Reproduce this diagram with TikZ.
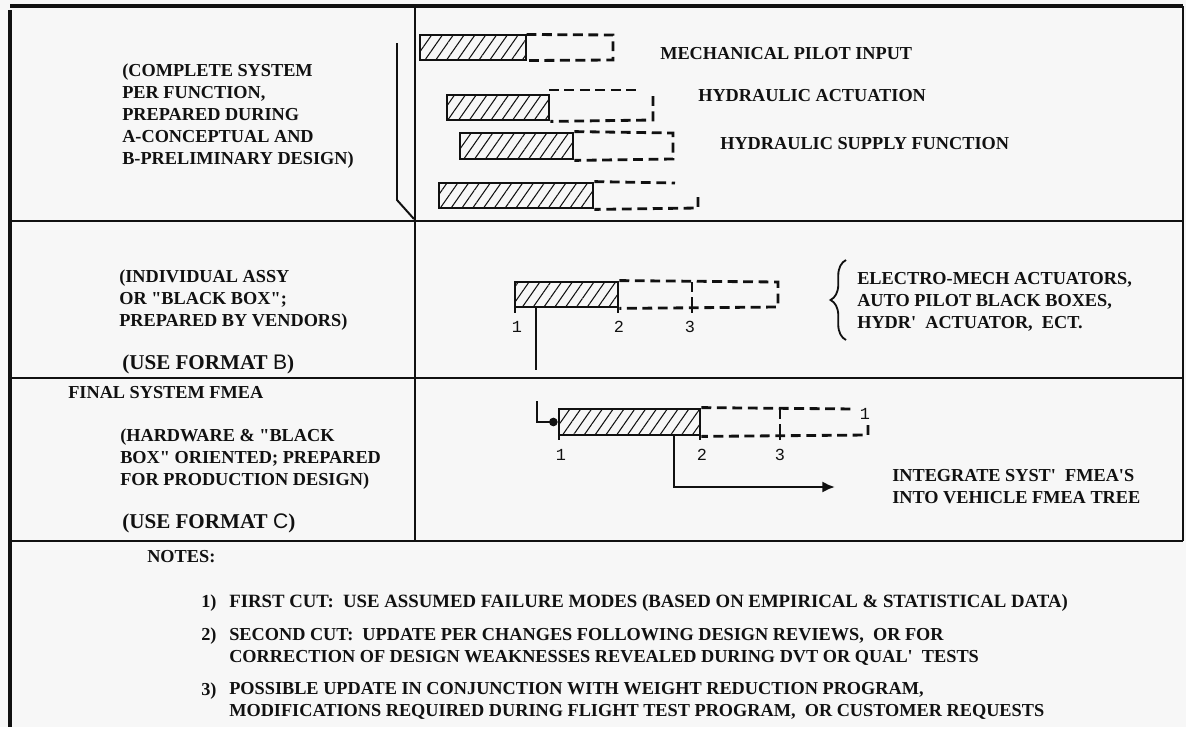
\documentclass[tikz,border=0pt]{standalone}
\usepackage{fontspec}
\setmainfont{Liberation Serif}
\newfontfamily\cifrafont{Liberation Mono}
\newfontfamily\letrafont{Liberation Sans}
\usetikzlibrary{arrows.meta,positioning,calc,fit,patterns.meta,decorations.pathreplacing}
\definecolor{cpapel}{HTML}{F7F7F7}
\definecolor{ctinta}{HTML}{111111}
\newcommand{\cm}{\textquotedbl}
\newcommand{\ap}{\textquotesingle}
\tikzset{
  marco/.style={draw=ctinta,line width=2pt},
  marcof/.style={draw=ctinta,line width=1.4pt},
  barra/.style={draw=ctinta,line width=2pt,inner sep=0pt,
                pattern={Lines[angle=55,distance=6.3pt,line width=0.75pt]},pattern color=ctinta},
  tramo/.style={draw=ctinta,line width=2pt,dash pattern=on 7pt off 4pt},
  marca/.style={draw=ctinta,line width=1.6pt},
  texto/.style={font=\fontsize{13}{15.6}\selectfont\bfseries,align=left,inner sep=0pt,
                anchor=west,text=ctinta},
  textog/.style={texto,font=\fontsize{15}{18}\selectfont\bfseries},
  cifra/.style={font=\fontsize{12}{14}\selectfont\cifrafont,inner sep=0pt,text=ctinta},
  flecha/.style={draw=ctinta,line width=2pt},
}
\begin{document}
\begin{tikzpicture}[x=0.025cm,y=-0.025cm]

\fill[cpapel] (0,0) rectangle (1186,727);

% marco y separaciones
\draw[marco,line width=2.4pt] (10,6) -- (1183,6);
\draw[marco,line width=2.4pt] (10,10) -- (10,727);
\draw[marcof] (1183,6) -- (1183,541);
\draw[marcof] (10,221) -- (1183,221);
\draw[marcof] (10,378) -- (1183,378);
\draw[marco] (10,541) -- (1183,541);
\draw[marcof] (415,6) -- (415,541);
\draw[marcof] (397,43) -- (397,200) -- (414,219);

% fase 1
\node[texto] (fase1) at (122,116)
  {(COMPLETE SYSTEM\\PER FUNCTION,\\PREPARED DURING\\A-CONCEPTUAL AND\\B-PRELIMINARY DESIGN)};

\node[barra,fit={(420,35) (526,60)}] (b1) {};
\node[barra,fit={(447,95) (549,120)}] (b2) {};
\node[barra,fit={(460,133) (573,159)}] (b3) {};
\node[barra,fit={(439,183) (593,208)}] (b4) {};

\draw[tramo] (b1.north east) -- (613,35) -- (613,60) -- (b1.south east);
\draw[tramo] (549,90) -- (640,90);
\draw[tramo] (653,96) -- (653,120) -- (b2.south east);
\draw[tramo] (b3.north east) -- (673,133) -- (673,159) -- (b3.south east);
\draw[tramo] (b4.north east) -- (675,183);
\draw[tramo] (698,197) -- (698,208) -- (b4.south east);

\node[texto] (mec) at (660,54) {MECHANICAL PILOT INPUT};
\node[texto] (act) at (698,96) {HYDRAULIC ACTUATION};
\node[texto] (sum) at (720,144) {HYDRAULIC SUPPLY FUNCTION};

% fase 2
\node[texto] (fase2) at (119,300) {(INDIVIDUAL ASSY\\OR \cm BLACK BOX\cm;\\PREPARED BY VENDORS)};
\node[textog] (formb) at (122,364) {(USE FORMAT {\letrafont\mdseries B})};

\node[barra,fit={(515,282) (618,307)}] (vb) {};
\draw[tramo] (vb.north east) -- (778,282) -- (778,307) -- (vb.south east);
\draw[tramo] (692,282) -- (692,307);
\foreach \xm in {515,618,692}
  \draw[marca] (\xm,306) -- (\xm,313);
\node[cifra] (v1) at (517,327) {1};
\node[cifra] (v2) at (619,327) {2};
\node[cifra] (v3) at (690,327) {3};

\coordinate (vcorte) at (536,343);
\coordinate (vfin) at (536,370);
\draw[flecha] (vb.south -| vcorte) -- (vcorte);
\draw[draw=ctinta,line width=1pt] (vcorte) -- (vfin);

\draw[draw=ctinta,line width=1.3pt,decorate,decoration={brace,amplitude=11pt}]
  (846,340) -- (846,260);
\node[texto] (elec) at (857,301.5)
  {ELECTRO-MECH ACTUATORS,\\AUTO PILOT BLACK BOXES,\\HYDR\ap~ ACTUATOR, ~ECT.};

% fase 3
\node[texto] (fase3t) at (68,393) {FINAL SYSTEM FMEA};
\node[texto] (fase3) at (120,459.5)
  {(HARDWARE \& \cm BLACK\\BOX\cm{} ORIENTED; PREPARED\\FOR PRODUCTION DESIGN)};
\node[textog] (formc) at (122,523) {(USE FORMAT {\letrafont\mdseries C})};

\node[barra,fit={(559,409) (700,435)}] (fb) {};
\draw[tramo] (fb.north east) -- (855,409);
\draw[tramo] (868,425) -- (868,435) -- (fb.south east);
\draw[tramo] (780,409) -- (780,435);
\foreach \xm in {559,700,780}
  \draw[marca] (\xm,434) -- (\xm,440);
\node[cifra] (f1) at (561,455) {1};
\node[cifra] (f2) at (702,455) {2};
\node[cifra] (f3) at (780,455) {3};
\node[cifra] (f4) at (865,414) {1};

\coordinate (fent) at (537,401);
\draw[flecha,-{Circle[length=6pt]}] (fent) |- (fb.west);

\coordinate (fbaja) at (674,487);
\coordinate (fsal) at (835,487);
\draw[flecha,-{Latex[length=9pt,width=8pt]}] (fb.south -| fbaja) -- (fbaja) -- (fsal);
\node[texto] (integ) at (892,486.5) {INTEGRATE SYST\ap~ FMEA\ap S\\INTO VEHICLE FMEA TREE};

% notas
\node[texto] (notas) at (147,557) {NOTES:};
\node[texto] (n1) at (201,603) {1)};
\node[texto] (n2) at (201,636) {2)};
\node[texto] (n3) at (201,691) {3)};
\node[texto,font=\fontsize{13.35}{15.6}\selectfont\bfseries] (t1) at (229,603)
  {FIRST CUT:~ USE ASSUMED FAILURE MODES (BASED ON EMPIRICAL \& STATISTICAL DATA)};
\node[texto] (t2) at (229,646.5)
  {SECOND CUT:~ UPDATE PER CHANGES FOLLOWING DESIGN REVIEWS, ~OR FOR\\
   CORRECTION OF DESIGN WEAKNESSES REVEALED DURING DVT OR QUAL\ap~ TESTS};
\node[texto] (t3) at (229,701)
  {POSSIBLE UPDATE IN CONJUNCTION WITH WEIGHT REDUCTION PROGRAM,\\
   MODIFICATIONS REQUIRED DURING FLIGHT TEST PROGRAM, ~OR CUSTOMER REQUESTS};

\end{tikzpicture}
\end{document}
